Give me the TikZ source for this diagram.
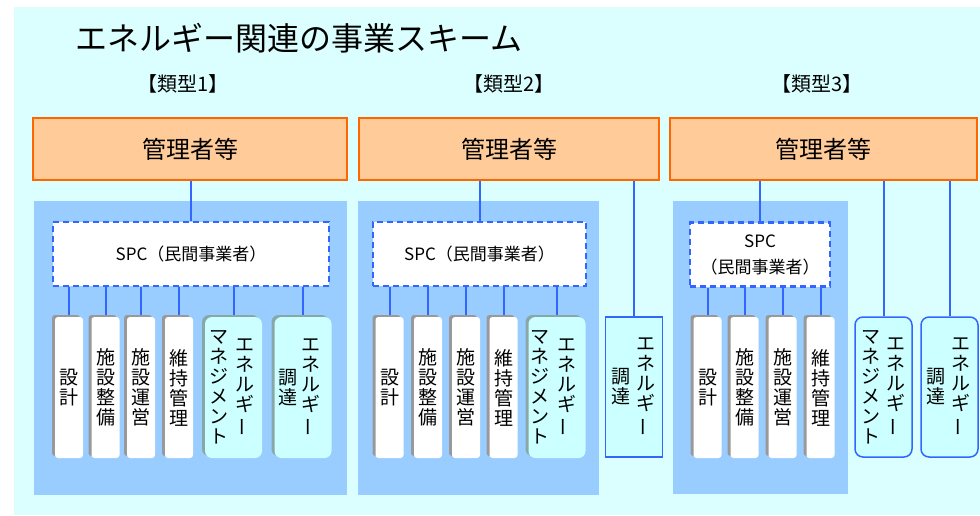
\documentclass[tikz,border=0pt]{standalone}
\usepackage{fontspec}
\setmainfont{Noto Sans CJK JP}
\usetikzlibrary{shadows,shapes.misc}
\definecolor{bgcyan}{HTML}{DBFFFF}
\definecolor{panelblue}{HTML}{99CCFF}
\definecolor{orangefill}{HTML}{FFCC99}
\definecolor{orangeline}{HTML}{FF6600}
\definecolor{lineblue}{HTML}{3366FF}
\definecolor{cyanfill}{HTML}{CCFFFF}
\definecolor{shadowgray}{HTML}{999999}
\definecolor{shadowteal}{HTML}{88A8A8}
\newcommand{\vb}{\rotatebox[origin=c]{90}{ー}}
\begin{document}
\begin{tikzpicture}[x=1pt,y=-1pt,
  mgr/.style={draw=orangeline, line width=2pt, fill=orangefill, minimum width=#1, minimum height=62pt, inner sep=0pt, font=\fontsize{24}{24}\selectfont},
  spc/.style={draw=lineblue, dash pattern=on 6pt off 4pt, line width=2.5pt, fill=white, minimum width=#1, minimum height=64pt, inner sep=0pt, align=center},
  vt/.style={inner sep=0pt, align=center, font=\fontsize{19}{20}\selectfont},
  wbox/.style={vt, fill=white, rounded corners=3pt, minimum width=28pt, minimum height=141pt,
    general shadow={fill=shadowgray, shadow xshift=-3pt, shadow yshift=2pt}},
  cbox/.style={fill=cyanfill, rounded corners=7pt, minimum width=57pt, minimum height=141pt, inner sep=0pt,
    general shadow={fill=shadowteal, shadow xshift=-3pt, shadow yshift=2pt}},
  obox/.style={draw=lineblue, line width=1.5pt, fill=cyanfill, minimum width=57pt, minimum height=140pt, inner sep=0pt},
  conn/.style={draw=lineblue, line width=2pt},
  typelbl/.style={inner sep=0pt, font=\fontsize{20}{20}\selectfont}
]
\useasboundingbox (0,0) rectangle (980,515);
\fill[white] (0,0) rectangle (980,515);
\fill[bgcyan] (14,7) rectangle (980,515);

% title
\node[inner sep=0pt, font=\fontsize{32}{32}\selectfont] (title) at (299,38) {エネルギー関連の事業スキーム};
\node[typelbl] (k1) at (183,84) {【類型1】};
\node[typelbl] (k2) at (509,84) {【類型2】};
\node[typelbl] (k3) at (817,84) {【類型3】};

% manager boxes
\node[mgr=314pt] (m1) at (190,149) {管理者等};
\node[mgr=300pt] (m2) at (509,149) {管理者等};
\node[mgr=307pt] (m3) at (823.5,149) {管理者等};

% panels
\fill[panelblue] (34,201) rectangle (347,495);
\fill[panelblue] (358,201) rectangle (599,495);
\fill[panelblue] (673,201) rectangle (848,494);

% SPC boxes
\node[spc=276pt, font=\fontsize{17}{26}\selectfont] (s1) at (191,254) {SPC（民間事業者）};
\node[spc=213pt, font=\fontsize{17}{26}\selectfont] (s2) at (479.5,254) {SPC（民間事業者）};
\node[spc=140pt, font=\fontsize{17}{26}\selectfont] (s3) at (760,254.5) {SPC\\（民間事業者）};

% type 1
\node[wbox] (a1) at (69,387.5) {設\\計};
\node[wbox] (a2) at (105.5,387.5) {施\\設\\整\\備};
\node[wbox] (a3) at (141,387.5) {施\\設\\運\\営};
\node[wbox] (a4) at (179,387.5) {維\\持\\管\\理};
\node[cbox] (a5) at (233.5,387.5) {};
\node[vt] (a5r) at ([xshift=11.5pt]a5.center) {エ\\ネ\\ル\\ギ\\\vb};
\node[vt] (a5l) at ([xshift=-14.5pt]a5.center) {マ\\ネ\\ジ\\メ\\ン\\ト};
\node[cbox] (a6) at (303,387.5) {};
\node[vt] (a6r) at ([xshift=8pt]a6.center) {エ\\ネ\\ル\\ギ\\\vb};
\node[vt] (a6l) at ([xshift=-15pt]a6.center) {調\\達};

% type 2
\node[wbox] (b1) at (389.5,387.5) {設\\計};
\node[wbox] (b2) at (428,387.5) {施\\設\\整\\備};
\node[wbox] (b3) at (466,387.5) {施\\設\\運\\営};
\node[wbox] (b4) at (503.5,387.5) {維\\持\\管\\理};
\node[cbox] (b5) at (557,387.5) {};
\node[vt] (b5r) at ([xshift=9.5pt]b5.center) {エ\\ネ\\ル\\ギ\\\vb};
\node[vt] (b5l) at ([xshift=-17pt]b5.center) {マ\\ネ\\ジ\\メ\\ン\\ト};
\node[obox, chamfered rectangle, chamfered rectangle corners=5pt] (b6) at (634,387) {};
\node[vt] (b6r) at ([xshift=12pt]b6.center) {エ\\ネ\\ル\\ギ\\\vb};
\node[vt] (b6l) at ([xshift=-13pt]b6.center) {調\\達};

% type 3
\node[wbox] (c1) at (707.5,387.5) {設\\計};
\node[wbox] (c2) at (744.5,387.5) {施\\設\\整\\備};
\node[wbox] (c3) at (782.5,387.5) {施\\設\\運\\営};
\node[wbox] (c4) at (820.5,387.5) {維\\持\\管\\理};
\node[obox, rounded corners=8pt] (c5) at (883.5,387) {};
\node[vt] (c5r) at ([xshift=12.5pt]c5.center) {エ\\ネ\\ル\\ギ\\\vb};
\node[vt] (c5l) at ([xshift=-12.5pt]c5.center) {マ\\ネ\\ジ\\メ\\ン\\ト};
\node[obox, rounded corners=8pt] (c6) at (949.5,387) {};
\node[vt] (c6r) at ([xshift=11.5pt]c6.center) {エ\\ネ\\ル\\ギ\\\vb};
\node[vt] (c6l) at ([xshift=-13.5pt]c6.center) {調\\達};

% connectors
\draw[conn] (m1.south -| s1.north) -- (s1.north);
\draw[conn] (m2.south -| s2.north) -- (s2.north);
\draw[conn] (m3.south -| s3.north) -- (s3.north);
\draw[conn] (m2.south -| b6.north) -- (b6.north);
\draw[conn] (m3.south -| c5.north) -- (c5.north);
\draw[conn] (m3.south -| c6.north) -- (c6.north);
\foreach \n in {a1,a2,a3,a4,a5,a6} \draw[conn] (s1.south -| \n.north) -- ([yshift=2pt]\n.north);
\foreach \n in {b1,b2,b3,b4,b5} \draw[conn] (s2.south -| \n.north) -- ([yshift=2pt]\n.north);
\foreach \n in {c1,c2,c3,c4} \draw[conn] (s3.south -| \n.north) -- ([yshift=2pt]\n.north);
\end{tikzpicture}
\end{document}
